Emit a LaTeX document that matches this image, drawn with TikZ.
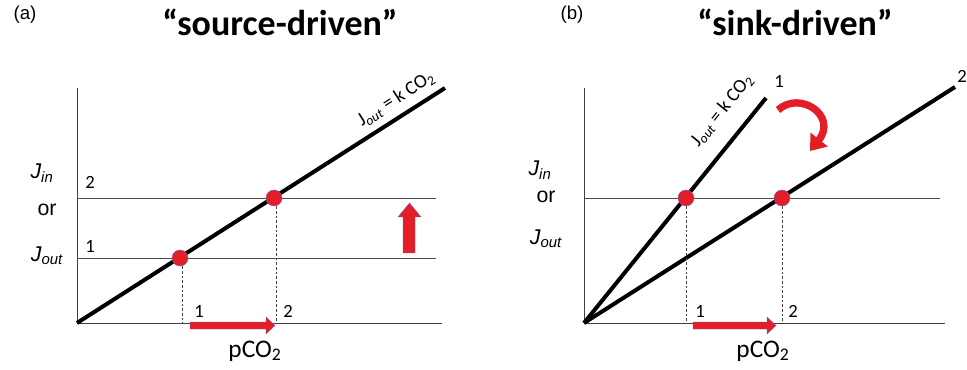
\documentclass[tikz,border=0pt]{standalone}
\usepackage{fontspec}
\setmainfont{Carlito}
\newfontfamily\arialf{Liberation Sans}
\usetikzlibrary{arrows.meta}
\definecolor{myred}{RGB}{228,30,38}
\definecolor{myedge}{RGB}{120,90,180}
\tikzset{
  axis/.style={draw=black!75, line width=0.75pt},
  guide/.style={draw=black!70, line width=0.6pt},
  dropline/.style={draw=black!75, line width=0.6pt, dash pattern=on 2pt off 1.5pt},
  fluxline/.style={draw=black, line width=3pt},
  dot/.style={circle, fill=myred, draw=myedge, line width=0.3pt, minimum size=12pt, inner sep=0pt},
  bigarrow/.style={fill=myred, draw=myedge, line width=0.3pt},
  ttl/.style={font=\bfseries\fontsize{27}{30}\selectfont},
  panel/.style={font=\arialf\fontsize{14}{16}\selectfont},
  num/.style={font=\fontsize{14}{16}\selectfont},
  ylab/.style={font=\arialf\fontsize{16}{18}\selectfont},
  xlab/.style={font=\fontsize{19}{21}\selectfont},
  eqlab/.style={font=\fontsize{14.5}{16}\selectfont, inner sep=1pt}
}
\begin{document}
\begin{tikzpicture}[x=0.75pt,y=-0.75pt]
\useasboundingbox (0,0) rectangle (967,370);
% ================= panel (a)
\node[panel] (pa) at (25,15) {(a)};
\node[ttl] (ta) at (280,22) {“source-driven”};
\coordinate (oa) at (77,323);
\coordinate (ya) at (77,88);
\coordinate (xa) at (442,323);
\draw[axis] (ya) -- (oa) -- (xa);
\coordinate (h2s) at (77,198); \coordinate (h2e) at (436,198);
\coordinate (h1s) at (77,258); \coordinate (h1e) at (436,258);
\draw[guide] (h2s) -- (h2e);
\draw[guide] (h1s) -- (h1e);
\coordinate (la) at (445,88);
\draw[fluxline] (oa) -- (la);
\node[dot] (da1) at (180,258) {};
\node[dot] (da2) at (274,198) {};
\coordinate (fa1) at (182,323); \coordinate (fa2) at (276,323);
\draw[dropline] (da1.south) ++(2,0) -- (fa1);
\draw[dropline] (da2.south) ++(2,0) -- (fa2);
\node[num] (a1) at (90,246) {1};
\node[num] (a2) at (90,182) {2};
\node[num] (ax1) at (199,311) {1};
\node[num] (ax2) at (288,311) {2};
\node[ylab] (jina) at (42,173) {\itshape J\textsubscript{in}};
\node[ylab] (ora) at (47,210) {or};
\node[ylab] (jouta) at (47,256) {\itshape J\textsubscript{out}};
\node[xlab] (pca) at (255,351) {pCO\textsubscript{2}};
\node[eqlab, rotate=32.6] (eqa) at (396,99) {J\textsubscript{\itshape out} = k CO\textsubscript{2}};
% red arrows (a)
\filldraw[bigarrow] (190,322) -- (266,322) -- (266,317) -- (275,325.5) -- (266,334) -- (266,329) -- (190,329) -- cycle;
\filldraw[bigarrow] (403,253) -- (403,217) -- (398,217) -- (409.5,203) -- (421,217) -- (415,217) -- (415,253) -- cycle;
% ================= panel (b)
\node[panel] (pb) at (572,15) {(b)};
\node[ttl] (tb) at (795,22) {“sink-driven”};
\coordinate (ob) at (584,323);
\coordinate (yb) at (584,88);
\coordinate (xb) at (945,323);
\draw[axis] (yb) -- (ob) -- (xb);
\coordinate (hbs) at (584,198); \coordinate (hbe) at (940,198);
\draw[guide] (hbs) -- (hbe);
\coordinate (lb1) at (766,98);
\coordinate (lb2) at (955,87);
\draw[fluxline] (ob) -- (lb1);
\draw[fluxline] (ob) -- (lb2);
\node[dot] (db1) at (686,198) {};
\node[dot] (db2) at (782,198) {};
\coordinate (fb1) at (686,323); \coordinate (fb2) at (782,323);
\draw[dropline] (db1.south) -- (fb1);
\draw[dropline] (db2.south) -- (fb2);
\node[num] (b1) at (779,81) {1};
\node[num] (b2) at (962,76) {2};
\node[num] (bx1) at (700,311) {1};
\node[num] (bx2) at (793,311) {2};
\node[ylab] (jinb) at (540,170) {\itshape J\textsubscript{in}};
\node[ylab] (orb) at (546,197) {or};
\node[ylab] (joutb) at (546,239) {\itshape J\textsubscript{out}};
\node[xlab] (pcb) at (763,351) {pCO\textsubscript{2}};
\node[eqlab, rotate=51] (eqb) at (722,110) {J\textsubscript{\itshape out} = k CO\textsubscript{2}};
% red arrows (b)
\filldraw[bigarrow] (693,322) -- (767,322) -- (767,317) -- (776,325.5) -- (767,334) -- (767,329) -- (693,329) -- cycle;
\coordinate (cs) at (778,110);
\coordinate (ce) at (810,151);
\draw[myred, line width=5.5pt, -{Triangle[length=11pt,width=16pt]}] (cs) .. controls (800,90) and (838,116) .. (ce);
\end{tikzpicture}
\end{document}
